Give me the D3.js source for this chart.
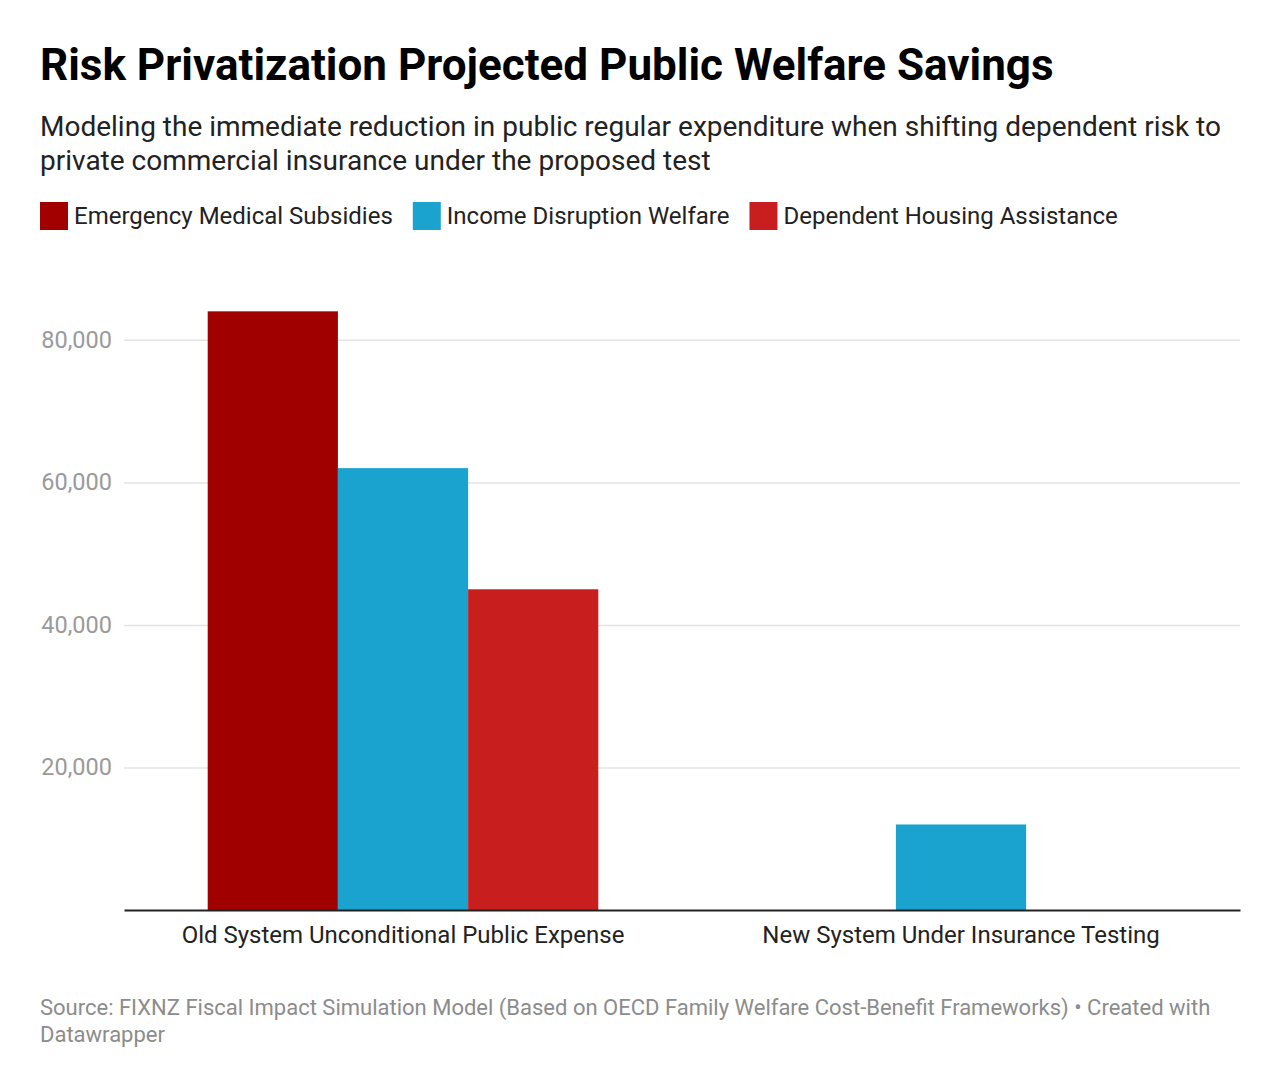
<!DOCTYPE html>
<html>
<head>
<meta charset="utf-8">
<script src="https://cdn.jsdelivr.net/npm/d3@7"></script>
<style>
  body { margin: 0; background: #fff; font-family: Roboto, "Noto Sans", sans-serif; }
  svg text { font-family: Roboto, "Noto Sans", sans-serif; }
</style>
</head>
<body>
<svg id="chart" width="1280" height="1088"></svg>
<script>
const categories = ["Old System Unconditional Public Expense", "New System Under Insurance Testing"];
const seriesNames = ["Emergency Medical Subsidies", "Income Disruption Welfare", "Dependent Housing Assistance"];
const seriesColors = ["#a00000", "#1aa3cf", "#c81e1e"];
const emergencyMedical = [84000, 0];
const incomeDisruption = [62000, 12000];
const dependentHousing = [45000, 0];
const yTicks = [20000, 40000, 60000, 80000];

const seriesValues = [emergencyMedical, incomeDisruption, dependentHousing];

const svg = d3.select("#chart");
const margin = { top: 270, right: 40, bottom: 178, left: 124 };
const width = 1280 - margin.left - margin.right;
const height = 1088 - margin.top - margin.bottom;

// Header
svg.append("text")
  .attr("x", 40).attr("y", 80)
  .attr("font-size", 44).attr("font-weight", 700).attr("fill", "#000")
  .text("Risk Privatization Projected Public Welfare Savings");

const sub = svg.append("text")
  .attr("x", 40).attr("y", 136)
  .attr("font-size", 28).attr("fill", "#222");
sub.append("tspan").attr("x", 40).attr("dy", 0)
  .text("Modeling the immediate reduction in public regular expenditure when shifting dependent risk to");
sub.append("tspan").attr("x", 40).attr("dy", 34)
  .text("private commercial insurance under the proposed test");

// Legend
const legend = svg.append("g").attr("transform", "translate(40,202)");
let lx = 0;
seriesNames.forEach((name, i) => {
  const item = legend.append("g").attr("transform", `translate(${lx},0)`);
  item.append("rect").attr("width", 28).attr("height", 28).attr("fill", seriesColors[i]);
  const t = item.append("text")
    .attr("x", 34).attr("y", 22)
    .attr("font-size", 24).attr("fill", "#222")
    .text(name);
  lx += 34 + t.node().getComputedTextLength() + 20;
});

const g = svg.append("g").attr("transform", `translate(${margin.left},${margin.top})`);

const x0 = d3.scaleBand().domain(categories).range([0, width]).paddingInner(0.3).paddingOuter(0.15);
const x1 = d3.scaleBand().domain(seriesNames).range([0, x0.bandwidth()]).padding(0);
const y = d3.scaleLinear().domain([0, 89800]).range([height, 0]);

// Gridlines + y labels
const yAxis = g.append("g")
  .call(d3.axisLeft(y).tickValues(yTicks).tickSize(-width).tickPadding(12).tickFormat(d3.format(",")));
yAxis.select(".domain").remove();
yAxis.selectAll(".tick line").attr("stroke", "#e3e3e3").attr("stroke-width", 1.5);
yAxis.selectAll(".tick text")
  .attr("font-size", 23.5).attr("fill", "#9a9a9a")
  .attr("font-family", "Roboto, sans-serif");

// Bars
const rows = categories.map((c, ci) => ({
  category: c,
  values: seriesNames.map((s, si) => ({ series: s, color: seriesColors[si], value: seriesValues[si][ci] }))
}));

g.selectAll("g.group")
  .data(rows)
  .enter().append("g")
  .attr("class", "group")
  .attr("transform", d => `translate(${x0(d.category)},0)`)
  .selectAll("rect")
  .data(d => d.values.filter(v => v.value > 0))
  .enter().append("rect")
  .attr("x", d => x1(d.series))
  .attr("y", d => y(d.value))
  .attr("width", x1.bandwidth())
  .attr("height", d => height - y(d.value))
  .attr("fill", d => d.color);

// X axis
const xAxis = g.append("g")
  .attr("transform", `translate(0,${height})`)
  .call(d3.axisBottom(x0).tickSize(0).tickPadding(16));
xAxis.select(".domain").attr("stroke", "#222").attr("stroke-width", 2);
xAxis.selectAll(".tick text")
  .attr("font-size", 24).attr("fill", "#222")
  .attr("font-family", "Roboto, sans-serif");

// Footer
const src = svg.append("text")
  .attr("x", 40).attr("y", 1015)
  .attr("font-size", 22).attr("fill", "#8c8c8c");
src.append("tspan").attr("x", 40).attr("dy", 0)
  .text("Source: FIXNZ Fiscal Impact Simulation Model (Based on OECD Family Welfare Cost-Benefit Frameworks) • Created with");
src.append("tspan").attr("x", 40).attr("dy", 27)
  .text("Datawrapper");
</script>
</body>
</html>
